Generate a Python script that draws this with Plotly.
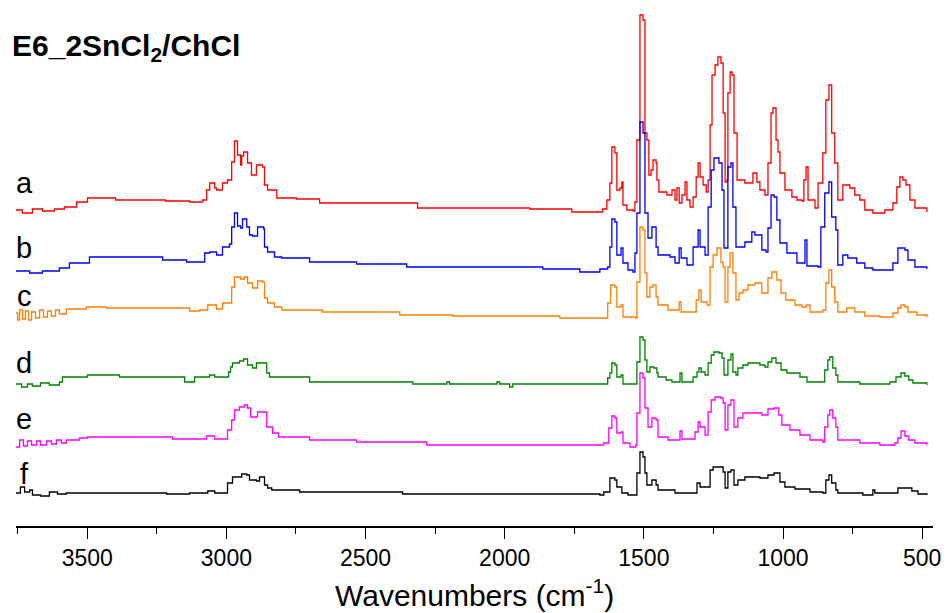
import plotly.graph_objects as go

# ---- data: (wavenumber cm-1, absorbance above own baseline) ----
SPEC_A = [(3758,0.02),(3733,-0.01),(3697,0.03),(3661,0.01),(3618,0.03),(3582,0.05),(3538,0.10),(3499,0.14),
          (3398,0.12),(3219,0.11),(3132,0.10),(3085,0.12),(3071,0.22),(3060,0.29),(3042,0.24),(3035,0.22),
          (3014,0.29),(2996,0.32),(2981,0.50),(2971,0.71),(2960,0.57),(2949,0.47),(2945,0.56),(2938,0.60),
          (2924,0.49),(2910,0.37),(2892,0.47),(2870,0.45),(2863,0.27),(2852,0.22),(2819,0.14),(2748,0.13),
          (2665,0.09),(2313,0.04),(1910,0.03),(1759,0.00),(1648,0.03),(1633,0.12),(1622,0.29),(1615,0.65),
          (1604,0.59),(1597,0.22),(1586,0.24),(1579,0.30),(1575,0.07),(1561,0.02),(1539,0.01),(1532,0.10),
          (1525,0.72),(1514,1.97),(1503,1.92),(1496,0.79),(1489,0.72),(1482,0.37),(1474,0.42),(1467,0.52),
          (1456,0.49),(1453,0.32),(1446,0.20),(1417,0.17),(1399,0.22),(1388,0.12),(1381,0.24),(1373,0.09),
          (1363,0.17),(1352,0.30),(1345,0.12),(1334,0.05),(1323,0.15),(1312,0.35),(1305,0.49),(1298,0.35),
          (1287,0.27),(1276,0.20),(1269,0.32),(1262,0.87),(1255,1.37),(1244,1.47),(1234,1.55),(1223,1.49),
          (1215,0.99),(1208,0.30),(1201,0.32),(1198,1.19),(1190,1.40),(1183,1.37),(1176,0.79),(1165,0.32),
          (1137,0.29),(1108,0.39),(1094,0.30),(1083,0.22),(1065,0.17),(1054,0.49),(1043,0.99),(1036,1.04),
          (1025,0.72),(1018,0.60),(1011,0.39),(993,0.22),(968,0.15),(950,0.12),(932,0.11),(925,0.32),
          (917,0.45),(910,0.12),(885,0.04),(874,0.29),(857,0.59),(846,1.12),(835,1.27),(825,0.79),
          (814,0.49),(803,0.12),(785,0.27),(760,0.24),(742,0.17),(724,0.12),(706,0.02),(677,-0.01),
          (634,0.02),(605,0.09),(591,0.25),(580,0.35),(569,0.32),(558,0.27),(544,0.12),(526,0.04),(483,0.00)]

SPEC_B = [(3758,-0.02),(3707,-0.04),(3661,-0.02),(3600,0.01),(3564,0.06),(3492,0.12),(3229,0.09),(3143,0.07),
          (3078,0.16),(3060,0.17),(3035,0.14),(3014,0.22),(2989,0.25),(2981,0.42),(2971,0.56),(2960,0.43),
          (2949,0.41),(2942,0.50),(2927,0.42),(2917,0.34),(2906,0.33),(2888,0.42),(2866,0.40),(2863,0.22),
          (2852,0.17),(2827,0.12),(2801,0.11),(2701,0.07),(2532,0.05),(2352,0.02),(1863,0.00),(1730,-0.03),
          (1658,0.00),(1630,0.02),(1622,0.22),(1615,0.50),(1604,0.47),(1597,0.14),(1582,0.21),(1575,0.06),
          (1557,-0.01),(1539,-0.03),(1532,0.16),(1525,0.56),(1514,1.47),(1503,1.36),(1496,0.56),(1485,0.31),
          (1471,0.42),(1456,0.22),(1449,0.14),(1406,0.12),(1388,0.06),(1373,0.21),(1366,0.11),(1345,0.04),
          (1323,0.22),(1305,0.39),(1298,0.22),(1280,0.14),(1269,0.62),(1258,0.99),(1248,1.11),(1230,1.06),
          (1219,0.79),(1212,0.21),(1198,1.02),(1187,1.06),(1180,0.62),(1169,0.22),(1137,0.27),(1112,0.37),
          (1101,0.34),(1076,0.19),(1061,0.17),(1054,0.41),(1043,0.74),(1032,0.72),(1022,0.49),(1011,0.26),
          (986,0.16),(950,0.06),(921,0.29),(914,0.03),(874,0.02),(864,0.42),(850,0.76),(835,0.87),
          (825,0.52),(810,0.39),(803,0.04),(785,0.14),(767,0.11),(735,0.06),(706,0.01),(677,-0.01),
          (605,0.06),(587,0.21),(562,0.19),(551,0.09),(526,0.02),(483,0.00)]

SPEC_C = [(3758,0.04),(3750,-0.03),(3743,0.07),(3732,-0.02),(3722,0.06),(3711,-0.03),(3700,0.05),(3686,-0.01),
          (3671,0.07),(3657,0.00),(3643,0.06),(3629,0.01),(3614,0.07),(3600,0.03),(3575,0.08),(3503,0.10),
          (3431,0.09),(3132,0.06),(3096,0.07),(3067,0.12),(3035,0.08),(3014,0.14),(2981,0.30),(2971,0.40),
          (2949,0.38),(2935,0.40),(2924,0.34),(2906,0.29),(2888,0.36),(2870,0.35),(2863,0.19),(2852,0.14),
          (2827,0.10),(2801,0.07),(2655,0.05),(2377,0.02),(2187,0.01),(1802,-0.01),(1658,-0.01),(1630,0.14),
          (1619,0.32),(1604,0.30),(1597,0.10),(1582,0.12),(1575,0.00),(1529,-0.01),(1525,0.35),(1514,0.90),
          (1503,0.87),(1496,0.44),(1489,0.20),(1478,0.30),(1467,0.32),(1456,0.20),(1449,0.12),(1413,0.07),
          (1373,0.15),(1366,0.05),(1323,0.05),(1312,0.17),(1302,0.27),(1294,0.15),(1273,0.12),(1262,0.50),
          (1251,0.62),(1237,0.69),(1223,0.55),(1215,0.50),(1208,0.15),(1198,0.50),(1190,0.64),(1180,0.44),
          (1169,0.17),(1158,0.24),(1144,0.27),(1126,0.32),(1101,0.34),(1076,0.24),(1054,0.39),(1040,0.45),
          (1022,0.37),(1007,0.24),(990,0.17),(957,0.12),(932,0.10),(917,0.12),(903,0.05),(857,0.07),
          (846,0.34),(835,0.47),(825,0.30),(814,0.15),(803,0.05),(771,0.09),(742,0.05),(706,0.01),
          (652,0.00),(605,0.04),(587,0.09),(576,0.12),(562,0.10),(551,0.05),(519,0.02),(483,0.00)]

SPEC_D = [(3758,0.01),(3736,-0.02),(3715,0.01),(3697,-0.01),(3668,0.02),(3636,0.00),(3600,0.03),(3589,0.08),
          (3499,0.10),(3384,0.08),(3150,0.03),(3114,0.08),(3060,0.10),(3042,0.08),(2992,0.13),(2985,0.18),
          (2978,0.22),(2953,0.24),(2938,0.26),(2924,0.20),(2906,0.17),(2892,0.22),(2866,0.22),(2855,0.12),
          (2845,0.08),(2701,0.03),(2330,0.01),(2208,0.03),(2198,0.01),(2028,0.03),(2018,0.01),(1982,-0.02),
          (1971,0.01),(1640,0.01),(1630,0.07),(1622,0.12),(1615,0.22),(1604,0.20),(1597,0.08),(1582,0.10),
          (1575,0.01),(1529,0.01),(1525,0.23),(1514,0.48),(1503,0.45),(1496,0.25),(1489,0.13),(1478,0.18),
          (1464,0.17),(1453,0.12),(1449,0.08),(1420,0.05),(1399,0.03),(1370,0.12),(1363,0.03),(1323,0.08),
          (1309,0.13),(1302,0.17),(1294,0.13),(1280,0.10),(1269,0.22),(1258,0.30),(1248,0.33),(1230,0.32),
          (1219,0.27),(1212,0.10),(1198,0.25),(1187,0.31),(1180,0.13),(1169,0.10),(1162,0.17),(1144,0.20),
          (1126,0.22),(1083,0.20),(1065,0.18),(1054,0.23),(1040,0.27),(1025,0.22),(1007,0.15),(986,0.12),
          (939,0.08),(914,0.03),(857,0.03),(850,0.15),(839,0.25),(832,0.28),(821,0.17),(810,0.10),
          (803,0.03),(724,0.01),(616,0.03),(594,0.08),(576,0.12),(562,0.09),(548,0.05),(533,0.02),(483,0.00)]

SPEC_E = [(3758,-0.02),(3743,0.05),(3729,-0.01),(3715,0.04),(3700,0.00),(3682,0.04),(3668,0.00),(3646,0.04),
          (3629,0.01),(3611,0.05),(3593,0.02),(3575,0.05),(3528,0.07),(3499,0.08),(3193,0.06),(3071,0.09),
          (3042,0.06),(2996,0.15),(2981,0.25),(2971,0.35),(2953,0.38),(2935,0.40),(2924,0.37),(2913,0.28),
          (2888,0.33),(2863,0.33),(2855,0.18),(2834,0.12),(2812,0.08),(2701,0.05),(2532,0.03),(2280,0.00),
          (1658,0.00),(1644,0.02),(1626,0.17),(1615,0.29),(1604,0.27),(1597,0.12),(1582,0.13),(1575,0.02),
          (1550,-0.02),(1529,0.00),(1525,0.32),(1514,0.72),(1503,0.67),(1496,0.37),(1485,0.18),(1471,0.27),
          (1456,0.25),(1449,0.08),(1413,0.05),(1370,0.14),(1363,0.06),(1316,0.13),(1305,0.23),(1298,0.18),
          (1280,0.10),(1269,0.33),(1258,0.45),(1244,0.48),(1223,0.47),(1215,0.42),(1208,0.15),(1198,0.40),
          (1187,0.45),(1176,0.18),(1162,0.27),(1144,0.32),(1101,0.32),(1076,0.30),(1054,0.36),(1032,0.37),
          (1015,0.30),(1004,0.20),(975,0.15),(939,0.10),(903,0.05),(857,0.03),(850,0.18),(839,0.30),
          (832,0.35),(821,0.27),(810,0.18),(803,0.05),(724,0.02),(652,0.00),(598,0.02),(587,0.07),
          (576,0.14),(562,0.09),(548,0.05),(526,0.02),(483,0.00)]

SPEC_F = [(3758,0.02),(3740,0.08),(3725,0.03),(3707,0.05),(3697,0.00),(3668,-0.01),(3636,0.03),(3607,0.01),
          (3575,0.02),(3215,0.01),(3132,0.02),(3067,0.04),(3042,0.02),(2996,0.12),(2978,0.18),(2945,0.21),
          (2927,0.20),(2917,0.15),(2892,0.14),(2881,0.18),(2863,0.10),(2852,0.07),(2837,0.05),(2737,0.03),
          (2367,0.01),(1658,0.00),(1644,0.03),(1622,0.17),(1604,0.15),(1597,0.08),(1579,0.02),(1557,0.00),
          (1525,0.22),(1514,0.43),(1503,0.38),(1496,0.22),(1489,0.10),(1471,0.15),(1456,0.10),(1449,0.05),
          (1388,0.02),(1309,0.12),(1298,0.08),(1269,0.08),(1262,0.25),(1251,0.28),(1223,0.28),(1215,0.23),
          (1208,0.07),(1198,0.23),(1187,0.25),(1176,0.10),(1162,0.15),(1137,0.18),(1083,0.17),(1054,0.20),
          (1032,0.22),(1011,0.13),(993,0.08),(957,0.06),(903,0.03),(857,0.02),(846,0.15),(835,0.20),
          (825,0.12),(810,0.05),(803,0.02),(713,0.00),(677,0.05),(670,0.02),(587,0.07),(551,0.07),
          (537,0.04),(515,0.01),(483,0.00)]

LABELS = ["a", "b", "c", "d", "e", "f"]
SPECTRA = [SPEC_A, SPEC_B, SPEC_C, SPEC_D, SPEC_E, SPEC_F]
OFFSETS = [3.14, 2.57, 2.09, 1.41, 0.81, 0.31]
COLORS = ["#ff0000", "#0000ff", "#ff8000", "#008000", "#ff00ff", "#000000"]
LABEL_Y = [183, 248, 296, 363, 419, 474]   # pixel centres of the a-f letters

X_TICKS = [3500, 3000, 2500, 2000, 1500, 1000, 500]
X_RANGE = [3756, 461]

TITLE = "E6_2SnCl<sub>2</sub>/ChCl"
X_TITLE = "Wavenumbers (cm<sup>-1</sup>)"

# ---- figure ----
W, H = 950, 613
ML, MR, MT, MB = 16, 17, 10, 87
PH = H - MT - MB

fig = go.Figure()
for spec, off, col in zip(SPECTRA, OFFSETS, COLORS):
    xs = [p[0] for p in spec]
    ys = [p[1] + off for p in spec]
    fig.add_trace(go.Scatter(x=xs, y=ys, mode="lines", line=dict(color=col, width=1.3, shape="hv"),
                             hoverinfo="skip", showlegend=False))

FONT = "Liberation Sans, Arial, sans-serif"

fig.update_layout(
    width=W, height=H,
    margin=dict(l=ML, r=MR, t=MT, b=MB),
    paper_bgcolor="white", plot_bgcolor="white",
    showlegend=False,
    font=dict(family=FONT, color="black"),
    xaxis=dict(range=X_RANGE, tickvals=X_TICKS, ticktext=[str(v) for v in X_TICKS],
               showgrid=False, zeroline=False, showline=True, linecolor="black", linewidth=1.5,
               ticks="outside", ticklen=11, tickwidth=1.2, tickcolor="black",
               tickfont=dict(family=FONT, size=23, color="black"),
               minor=dict(ticks="outside", ticklen=6, tickwidth=1.2, tickcolor="black",
                          tickvals=[3750, 3250, 2750, 2250, 1750, 1250, 750])),
    yaxis=dict(range=[0, PH / 100], visible=False, fixedrange=True),
)

def py2paper(py):
    return (H - MB - py) / PH

annotations = [
    dict(text="<b>" + TITLE + "</b>", x=(10 - ML) / (W - ML - MR), y=py2paper(47),
         xref="paper", yref="paper", xanchor="left", yanchor="middle", showarrow=False,
         font=dict(family=FONT, size=30, color="black")),
    dict(text=X_TITLE, x=(474 - ML) / (W - ML - MR), y=py2paper(593),
         xref="paper", yref="paper", xanchor="center", yanchor="middle", showarrow=False,
         font=dict(family=FONT, size=30, color="black")),
]
for lab, ly in zip(LABELS, LABEL_Y):
    annotations.append(dict(text=lab, x=(24 - ML) / (W - ML - MR), y=py2paper(ly),
                            xref="paper", yref="paper", xanchor="center", yanchor="middle",
                            showarrow=False, font=dict(family=FONT, size=29, color="black")))
fig.update_layout(annotations=annotations)

fig.write_html("out.html", config={"displayModeBar": False},
               post_script="document.body.style.margin='0';document.body.style.overflow='hidden';")
